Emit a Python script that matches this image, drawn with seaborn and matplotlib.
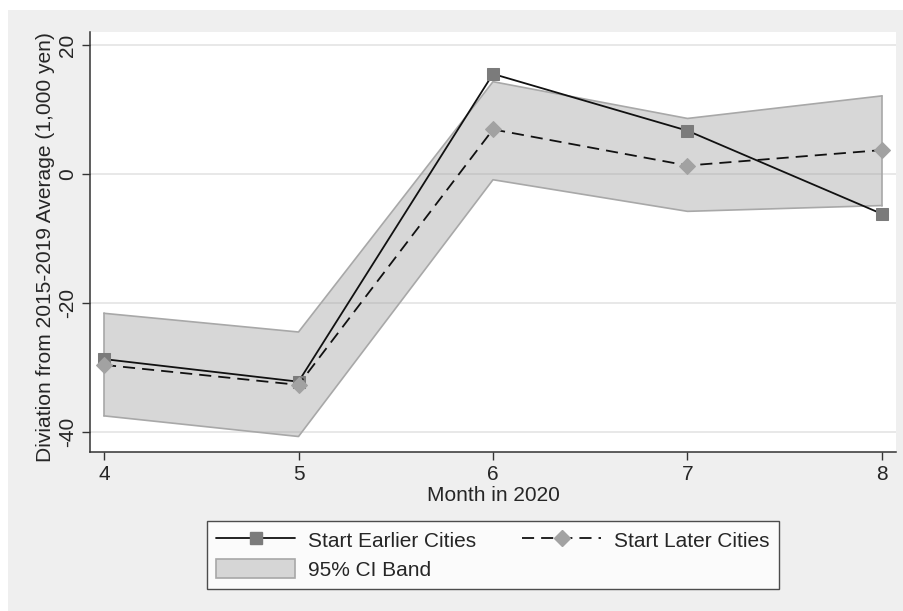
import matplotlib
matplotlib.use("Agg")
import matplotlib.pyplot as plt
from matplotlib.patches import Rectangle
from matplotlib.lines import Line2D
from matplotlib.patches import Patch
import seaborn as sns
import pandas as pd

# Monthly deviation from the 2015-2019 average (1,000 yen)
months = [4, 5, 6, 7, 8]
earlier_cities = [-28.7, -32.2, 15.5, 6.7, -6.2]
later_cities = [-29.6, -32.7, 6.9, 1.3, 3.7]
ci_lower = [-37.5, -40.7, -0.9, -5.8, -4.9]
ci_upper = [-21.6, -24.5, 14.3, 8.6, 12.1]
y_ticks = [-40, -20, 0, 20]

sns.set_style("white")
plt.rcParams["font.family"] = ["Liberation Sans", "DejaVu Sans"]

FS = 15
DASH = (0, (6.7, 3.9))

df = pd.DataFrame({
    "month": months,
    "earlier": earlier_cities,
    "later": later_cities,
    "lo": ci_lower,
    "hi": ci_upper,
})

fig = plt.figure(figsize=(9.04, 6.11), dpi=100)
fig.patch.set_facecolor("white")
fig.patches.append(Rectangle((8 / 904, 0), 1, 601 / 611, transform=fig.transFigure,
                             facecolor="#efefef", edgecolor="none", zorder=-10))

ax = fig.add_axes([90 / 904, 159 / 611, 806 / 904, 420 / 611])
ax.set_facecolor("white")

# horizontal grid at the y ticks
for yt in y_ticks:
    ax.axhline(yt, color="#e4e4e4", lw=1.2, zorder=0)

band_color = "#a0a0a0"
ax.fill_between(df["month"], df["lo"], df["hi"], facecolor=band_color, alpha=0.42,
                edgecolor="none", zorder=1)
ax.plot(df["month"], df["lo"], color="#a8a8a8", lw=1.2, zorder=1.5)
ax.plot(df["month"], df["hi"], color="#a8a8a8", lw=1.2, zorder=1.5)
ax.plot([months[0]] * 2, [ci_lower[0], ci_upper[0]], color="#a8a8a8", lw=1.2, zorder=1.5)
ax.plot([months[-1]] * 2, [ci_lower[-1], ci_upper[-1]], color="#a8a8a8", lw=1.2, zorder=1.5)

sns.lineplot(data=df, x="month", y="earlier", ax=ax, color="#111111", lw=1.3,
             marker="s", markersize=8.5, markerfacecolor="#7b7b7b",
             markeredgecolor="#7b7b7b", zorder=3)
sns.lineplot(data=df, x="month", y="later", ax=ax, color="#111111", lw=1.3,
             linestyle=DASH, marker="D", markersize=7.8,
             markerfacecolor="#a2a2a2", markeredgecolor="#a2a2a2", zorder=3)

ax.set_xlim(3.928, 8.072)
ax.set_ylim(-43.1, 22.0)
ax.set_xticks(months)
ax.set_yticks(y_ticks)
ax.set_xticklabels([str(m) for m in months], fontsize=FS)
ax.set_yticklabels([str(v) for v in y_ticks], fontsize=FS, rotation=90, va="center")
ax.tick_params(axis="both", direction="out", length=6, width=1, color="#333333",
               pad=3, left=True, bottom=True)
ax.set_xlabel("Month in 2020", fontsize=FS, labelpad=2)
ax.set_ylabel("Diviation from 2015-2019 Average (1,000 yen)", fontsize=15.1, labelpad=2)
ax.yaxis.set_label_coords(-35 / 806, 0.487)

for side in ["top", "right"]:
    ax.spines[side].set_visible(False)
for side in ["left", "bottom"]:
    ax.spines[side].set_color("#333333")
    ax.spines[side].set_linewidth(1.1)

handles = [
    Line2D([], [], color="#111111", lw=1.3, marker="s", markersize=8.5,
           markerfacecolor="#7b7b7b", markeredgecolor="#7b7b7b"),
    Patch(facecolor="#d6d6d6", edgecolor="#a8a8a8", lw=1.2),
    Line2D([], [], color="#111111", lw=1.3, linestyle=DASH, marker="D",
           markersize=7.8, markerfacecolor="#a2a2a2", markeredgecolor="#a2a2a2"),
]
labels = ["Start Earlier Cities", "95% CI Band", "Start Later Cities"]
leg = fig.legend(handles, labels, ncol=2, loc="center",
                 bbox_to_anchor=(493 / 904, 1 - 555 / 611), fontsize=FS,
                 frameon=True, fancybox=False, handlelength=3.8, handleheight=1.0,
                 columnspacing=2.2, handletextpad=0.62, borderpad=0.42,
                 labelspacing=0.42, borderaxespad=0)
leg.get_frame().set_edgecolor("#222222")
leg.get_frame().set_linewidth(1.0)
leg.get_frame().set_facecolor("white")

fig.savefig("out.png", dpi=100, facecolor=fig.get_facecolor())
